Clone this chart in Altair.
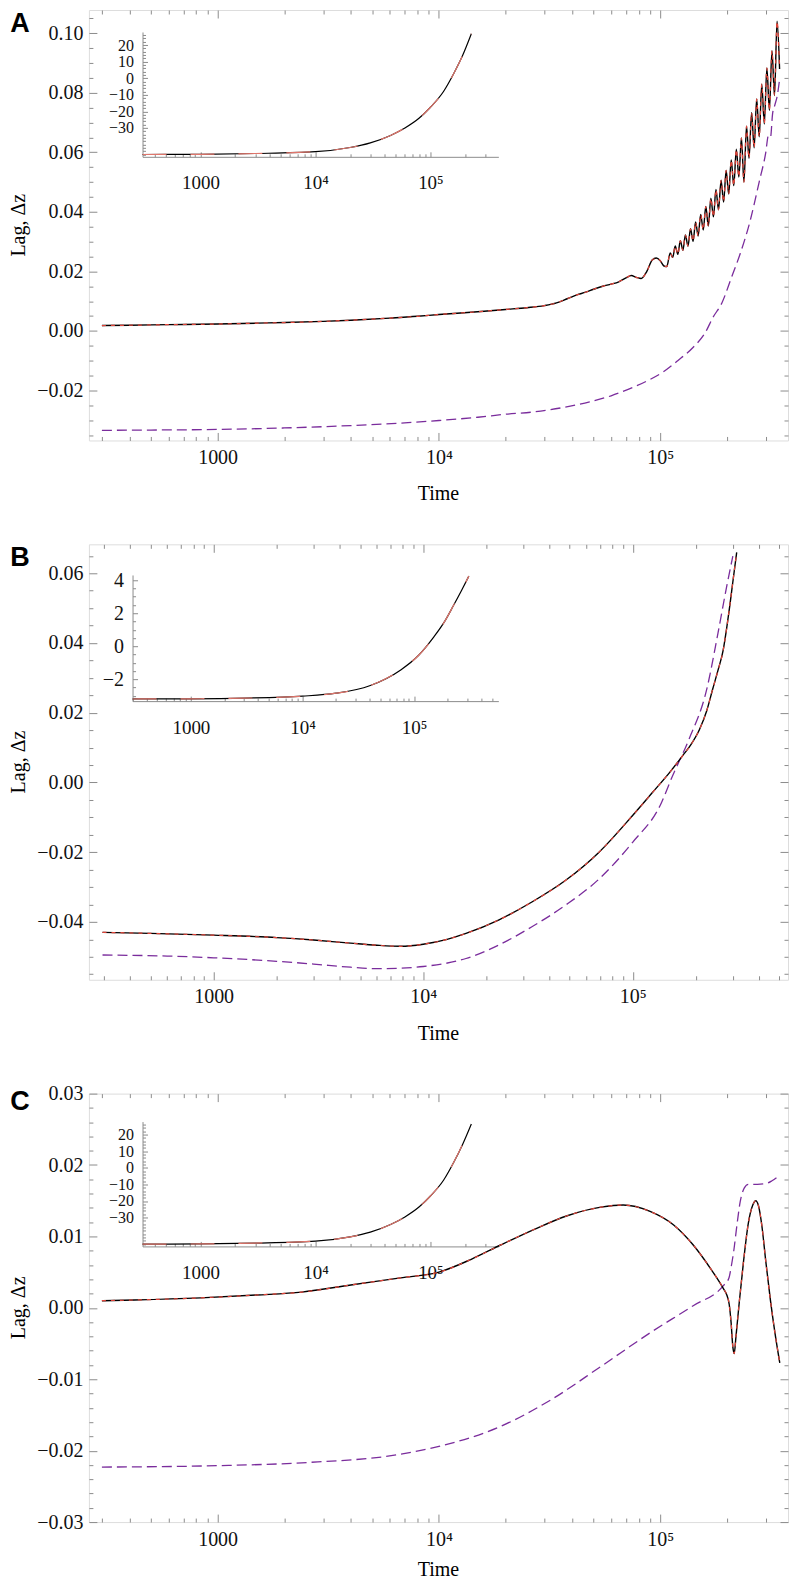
import math
import altair as alt
import pandas as pd

# ---------------- Panel A data ----------------
A_time = [300, 400, 600, 1000, 1500, 2000, 3000, 4000, 6000, 8000,
          10000, 13000, 16000, 20000, 25000, 30000, 34000, 38000, 42000, 46000,
          50000, 55000, 60000, 65000, 70000, 74000, 78000, 82000, 87000, 92000,
          96000, 100000, 104000, 107000,
          111000, 113900, 116950, 120100, 123300, 126600, 130000, 133500, 137100, 140800,
          144500, 148400, 152400, 156500, 160700, 165000, 169400, 174000, 178600, 183400,
          188400, 193400, 198600, 203900, 209400, 215000, 220800, 226700, 232800, 239000,
          245500, 252000, 258800, 265700, 272900, 280200, 287700, 295400, 303400, 311500,
          319900, 328500, 337300, 346300]
A_lag = [0.0018, 0.0019, 0.0021, 0.0023, 0.0026, 0.0028, 0.0032, 0.0036, 0.0043, 0.0049,
         0.0055, 0.0061, 0.0066, 0.0072, 0.0078, 0.0085, 0.0094, 0.0108, 0.0121, 0.0130,
         0.0140, 0.0150, 0.0157, 0.0165, 0.0178, 0.0186, 0.0180, 0.0176, 0.0200, 0.0238,
         0.0245, 0.0236, 0.0218, 0.0216,
         0.0262, 0.0247, 0.0285, 0.0257, 0.0303, 0.0271, 0.0322, 0.0285, 0.0343, 0.0301,
         0.0366, 0.0319, 0.0391, 0.0339, 0.0418, 0.0352, 0.0446, 0.0383, 0.0475, 0.0407,
         0.0506, 0.0433, 0.0539, 0.0460, 0.0574, 0.0488, 0.0610, 0.0517, 0.0648, 0.0500,
         0.0688, 0.0580, 0.0733, 0.0615, 0.0779, 0.0652, 0.0829, 0.0695, 0.0883, 0.0741,
         0.0941, 0.0791, 0.1040, 0.0880]
A_dz_time = [300, 500, 1000, 2000, 4000, 7000, 10000, 15000, 20000, 27000,
             36000, 48000, 60000, 75000, 90000, 103000, 120000, 141000, 160000, 173000,
             190000, 210000, 230000, 255000, 280000, 300000, 308000, 315000, 322000, 330000,
             338000, 347000]
A_dz = [-0.0334, -0.0333, -0.0331, -0.0326, -0.0318, -0.0309, -0.0301, -0.0290, -0.0280, -0.0272,
        -0.0258, -0.0238, -0.0218, -0.0190, -0.0163, -0.0138, -0.0100, -0.0055, -0.0005, 0.0045,
        0.0094, 0.0180, 0.0260, 0.0370, 0.0500, 0.0600, 0.0655, 0.0650, 0.0730, 0.0760,
        0.0790, 0.0850]
A_in_time = [313, 1000, 3000, 10000, 20000, 30000, 45000, 60000, 80000, 100000,
             130000, 160000, 190000, 227000]
A_in_val = [-46.0, -45.9, -45.4, -44.3, -41.8, -39.0, -34.5, -30.0, -24.0, -17.5,
            -8.0, 3.0, 13.5, 26.8]

# ---------------- Panel B data ----------------
B_time = [295, 500, 1000, 2000, 3000, 4500, 6000, 7800, 10000, 13000,
          16000, 23000, 33000, 48000, 69000, 100000, 124000, 150000, 173000, 190000,
          208000, 225000, 240000, 255000, 270000, 280000, 290000, 300000, 313000]
B_lag = [-0.0430, -0.0433, -0.0438, -0.0445, -0.0452, -0.0461, -0.0467, -0.0470, -0.0464, -0.0450,
         -0.0433, -0.0394, -0.0343, -0.0280, -0.0200, -0.0094, -0.0029, 0.0029, 0.0077, 0.0110,
         0.0152, 0.0205, 0.0266, 0.0322, 0.0380, 0.0440, 0.0506, 0.0575, 0.0660]
B_dz_time = [295, 600, 1000, 2000, 3000, 4500, 6000, 7800, 10000, 16000,
             23000, 33000, 48000, 69000, 100000, 135000, 155000, 185000, 225000, 255000,
             280000, 300000]
B_dz = [-0.0495, -0.0498, -0.0503, -0.0513, -0.0521, -0.0530, -0.0534, -0.0533, -0.0528, -0.0505,
        -0.0466, -0.0414, -0.0351, -0.0277, -0.0171, -0.0066, 0.0020, 0.0123, 0.0266, 0.0429,
        0.0560, 0.0649]
B_in_time = [300, 1000, 3000, 10000, 20000, 40000, 76000, 110000, 150000, 190000,
             225000, 265000, 310000]
B_in_val = [-3.20, -3.19, -3.15, -3.03, -2.85, -2.40, -1.44, -0.55, 0.55, 1.55,
            2.45, 3.35, 4.25]

# ---------------- Panel C data ----------------
C_time = [300, 420, 840, 1500, 2400, 4000, 6700, 10000, 14000, 19000,
          27000, 38000, 54000, 68000, 90000, 115000, 141000, 168000, 193000, 200000,
          205000, 209000, 213000, 216000, 220000, 228000, 238000, 250000, 262000, 270000,
          278000, 288000, 300000, 315000, 330000, 347000]
C_lag = [0.0010, 0.0011, 0.0014, 0.0018, 0.0022, 0.0032, 0.0042, 0.0050, 0.0068, 0.0088,
         0.0110, 0.0129, 0.0141, 0.0144, 0.0135, 0.0116, 0.0088, 0.0056, 0.0027, 0.0018,
         0.0005, -0.0020, -0.0055, -0.0064, -0.0040, 0.0010, 0.0065, 0.0118, 0.0144, 0.0150,
         0.0143, 0.0115, 0.0065, 0.0010, -0.0035, -0.0077]
C_dz_time = [300, 1000, 2400, 6700, 10000, 19000, 32000, 54000, 90000, 141000,
             193000, 204000, 210000, 215000, 222000, 230000, 240000, 250000, 275000, 300000,
             320000, 347000]
C_dz = [-0.0223, -0.0221, -0.0217, -0.0205, -0.0194, -0.0166, -0.0129, -0.0082, -0.0035, 0.0003,
        0.0031, 0.0041, 0.0060, 0.0080, 0.0115, 0.0149, 0.0168, 0.0173, 0.0173, 0.0174,
        0.0178, 0.0186]
C_in_time = [313, 1000, 3000, 10000, 20000, 30000, 45000, 60000, 80000, 100000,
             130000, 160000, 190000, 227000]
C_in_val = [-46.0, -45.9, -45.4, -44.2, -41.6, -38.8, -34.2, -29.6, -23.5, -17.0,
            -7.5, 3.5, 14.0, 26.5]

X_LABEL_VALUES = [1000, 10000, 100000]
LABEL_EXPR = "datum.value < 5000 ? '1000' : (datum.value < 50000 ? '10\u2074' : '10\u2075')"

SERIF = "Liberation Serif"
SANS = "Liberation Sans"
GRAY = "#8c8c8c"
BLACK = "#000000"
RED = "#e2453a"
INSET_RED = "#e0766c"
PURPLE = "#7a2c9c"
W = 700


def log_ticks(lo, hi):
    major, minor = [], []
    for e in range(2, 7):
        for m in range(1, 10):
            v = m * 10 ** e
            if lo <= v <= hi:
                (major if m == 1 else minor).append(v)
    return major, minor


def lin_ticks(lo, hi, step):
    k0 = math.ceil(lo / step - 1e-9)
    k1 = math.floor(hi / step + 1e-9)
    return [round(k * step, 6) for k in range(k0, k1 + 1)]


def axis(orient, values, **kw):
    base = dict(orient=orient, values=values, title=None, grid=False, domain=False,
                labels=False, ticks=False, tickSize=0, tickColor=GRAY, tickWidth=1,
                domainColor=GRAY, domainWidth=1, labelFont=SERIF, labelFontSize=20,
                labelColor="#111111", labelOverlap=False, labelFlush=False, labelPadding=0)
    base.update(kw)
    return alt.Axis(**base)


def text_layer(txt, x, y, size, font, weight="normal", angle=0):
    return alt.Chart(pd.DataFrame({"s": [txt]})).mark_text(
        font=font, fontSize=size, fontWeight=weight, angle=angle,
        align="center", baseline="middle", color="#000000"
    ).encode(x=alt.value(x), y=alt.value(y), text="s:N")


def make_panel(H, xdom, ydom, ystep, yminor, black, purple, inset, letter, letter_y, time_off):
    xs = alt.Scale(type="log", domain=xdom, nice=False)
    ys = alt.Scale(domain=ydom, nice=False, zero=False)
    xmaj, xmin = log_ticks(*xdom)
    ymaj = lin_ticks(ydom[0], ydom[1], ystep)
    ymin = [v for v in lin_ticks(ydom[0], ydom[1], yminor)
            if all(abs(v - m) > 1e-9 for m in ymaj)]
    black_df = pd.DataFrame({"t": black[0], "v": black[1]})
    purple_df = pd.DataFrame({"t": purple[0], "v": purple[1]})

    def carrier(df, xsc, ysc, xa, ya):
        return alt.Chart(df).mark_line(opacity=0).encode(
            x=alt.X("t:Q", scale=xsc, axis=xa), y=alt.Y("v:Q", scale=ysc, axis=ya))

    def line(df, xsc, ysc, **mk):
        return alt.Chart(df).mark_line(clip=True, interpolate="monotone", **mk).encode(
            x=alt.X("t:Q", scale=xsc, axis=None), y=alt.Y("v:Q", scale=ysc, axis=None))

    layers = [
        carrier(black_df, xs, ys,
                axis("bottom", X_LABEL_VALUES, labels=True, labelPadding=7, labelExpr=LABEL_EXPR),
                axis("left", ymaj, labels=True, labelPadding=6, format=".2f")),
        carrier(black_df, xs, ys,
                axis("top", xmaj, offset=-H, ticks=True, tickSize=8),
                axis("right", ymaj, offset=-W, ticks=True, tickSize=8)),
        carrier(black_df, xs, ys,
                axis("top", xmin, offset=-H, ticks=True, tickSize=4),
                axis("right", ymin, offset=-W, ticks=True, tickSize=4)),
        carrier(black_df, xs, ys,
                axis("bottom", xmaj, offset=-H, ticks=True, tickSize=8),
                axis("left", ymaj, offset=-W, ticks=True, tickSize=8)),
        carrier(black_df, xs, ys,
                axis("bottom", xmin, offset=-H, ticks=True, tickSize=4),
                axis("left", ymin, offset=-W, ticks=True, tickSize=4)),
        line(purple_df, xs, ys, color=PURPLE, strokeWidth=1.3, strokeDash=[10, 5]),
        line(black_df, xs, ys, color=BLACK, strokeWidth=1.4),
        line(black_df, xs, ys, color=RED, strokeWidth=1.2, strokeDash=[4, 5]),
    ]

    (it, iv, ixdom, iydom, x0, x1, y0, ytop, ilabels, iminor, ifont) = inset
    ixs = alt.Scale(type="log", domain=ixdom, range=[x0, x1], nice=False)
    iys = alt.Scale(domain=iydom, range=[y0, ytop], nice=False, zero=False)
    ixmaj, ixmin = log_ticks(*ixdom)
    iymin = [v for v in lin_ticks(iydom[0], iydom[1], iminor)
             if all(abs(v - m) > 1e-9 for m in ilabels)]
    inset_df = pd.DataFrame({"t": it, "v": iv})
    layers += [
        carrier(inset_df, ixs, iys,
                axis("bottom", X_LABEL_VALUES, offset=y0 - H, labels=True, labelPadding=17,
                     labelFontSize=19, labelExpr=LABEL_EXPR),
                axis("left", ilabels, offset=-x0, labels=True, labelPadding=9,
                     labelFontSize=ifont, format="d")),
        carrier(inset_df, ixs, iys,
                axis("top", ixmaj, offset=-y0, ticks=True, tickSize=5, domain=True),
                axis("right", ilabels, offset=x0 - W, ticks=True, tickSize=5, domain=True)),
        carrier(inset_df, ixs, iys,
                axis("top", ixmin, offset=-y0, ticks=True, tickSize=3),
                axis("right", iymin, offset=x0 - W, ticks=True, tickSize=3)),
        line(inset_df, ixs, iys, color=BLACK, strokeWidth=1.2),
        line(inset_df, ixs, iys, color=INSET_RED, strokeWidth=1.2, strokeDash=[24, 24]),
    ]

    layers += [
        text_layer(letter, -69, letter_y, 27, SANS, weight="bold"),
        text_layer("Lag, \u0394z", -70, H / 2, 20, SERIF, angle=270),
        text_layer("Time", W / 2, H + time_off, 20, SERIF),
    ]
    return alt.layer(*layers).resolve_scale(x="independent", y="independent").properties(
        width=W, height=H)


HA, HB, HC = 431, 436, 429
panel_a = make_panel(
    HA, [262, 378000], [-0.0368, 0.1078], 0.02, 0.005,
    (A_time, A_lag), (A_dz_time, A_dz),
    (A_in_time, A_in_val, [313, 390000], [-47.4, 27.9], 53.7, 410, 147, 22,
     [-30, -20, -10, 0, 10, 20], 2, 16),
    "A", 14, 54)
panel_b = make_panel(
    HB, [254, 550000], [-0.0566, 0.0683], 0.02, 0.005,
    (B_time, B_lag), (B_dz_time, B_dz),
    (B_in_time, B_in_val, [300, 570000], [-3.33, 4.32], 43.7, 410, 157, 30.7,
     [-2, 0, 2, 4], 0.5, 20),
    "B", 14, 54)
panel_c = make_panel(
    HC, [262, 378000], [-0.03, 0.03], 0.01, 0.002,
    (C_time, C_lag), (C_dz_time, C_dz),
    (C_in_time, C_in_val, [313, 390000], [-47.4, 27.9], 53.7, 410, 153, 28,
     [-30, -20, -10, 0, 10, 20], 2, 16),
    "C", 8, 48)

chart = alt.vconcat(panel_a, panel_b, panel_c, spacing=38).properties(
    padding={"left": 0, "right": 0, "top": 0, "bottom": 0}
).configure_view(stroke=GRAY, strokeWidth=1).configure(font=SERIF)

chart.save("out.html", embed_options={"renderer": "svg", "actions": False})
